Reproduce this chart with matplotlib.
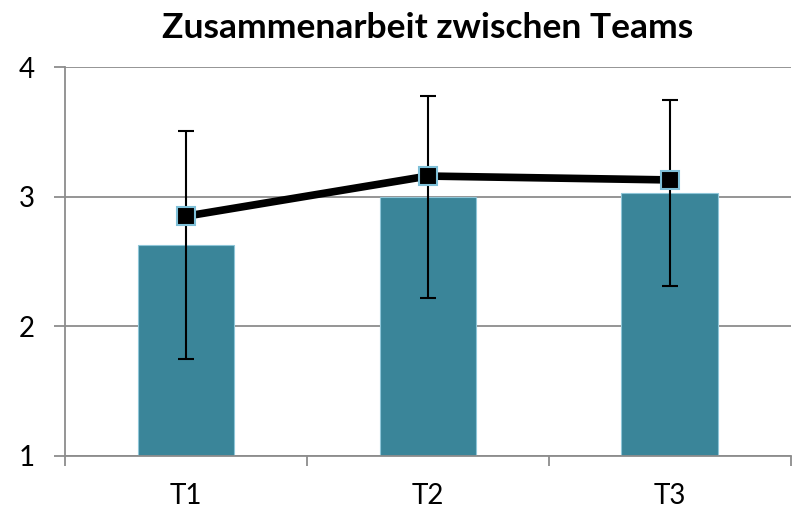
import matplotlib
matplotlib.use("Agg")
import matplotlib.pyplot as plt
import numpy as np

categories = ["T1", "T2", "T3"]
bar_values = [2.63, 3.0, 3.03]
bar_errors = [0.88, 0.78, 0.72]
line_values = [2.85, 3.16, 3.13]
title = "Zusammenarbeit zwischen Teams"

plt.rcParams['font.family'] = ['Lato', 'DejaVu Sans']

fig = plt.figure(figsize=(7.94, 5.09), dpi=100)
ax = fig.add_axes([0.0819, 0.1047, 0.914, 0.7631])

x = np.arange(len(categories))
grid_c = "#8c8c8c"
ax.set_axisbelow(True)
ax.yaxis.grid(True, color=grid_c, linewidth=1.3)
ax.bar(x, [v - 1 for v in bar_values], bottom=1, width=0.4, color="#3a8599",
       edgecolor="#8fc6d8", linewidth=0.8, zorder=2)
ax.errorbar(x, bar_values, yerr=bar_errors, fmt="none", ecolor="black",
            elinewidth=1.5, capsize=6, capthick=1.5, zorder=3)
ax.plot(x, line_values, color="black", linewidth=5.5, marker="s", markersize=13,
        markerfacecolor="black", markeredgecolor="#7fc0d8", markeredgewidth=1.5, zorder=4)

ax.set_xlim(-0.5, 2.5)
ax.set_ylim(1, 4)
ax.set_yticks([1, 2, 3, 4])
ax.set_xticks(x)
ax.set_xticklabels(categories)
ax.set_xticks([-0.5, 0.5, 1.5, 2.5], minor=True)
ax.tick_params(axis="x", which="major", length=0, pad=20, labelsize=20)
ax.tick_params(axis="x", which="minor", length=7, color=grid_c, width=1.3)
ax.tick_params(axis="y", length=8, color=grid_c, width=1.3, labelsize=20, pad=14)
for s in ["top", "right"]:
    ax.spines[s].set_visible(False)
for s in ["left", "bottom"]:
    ax.spines[s].set_color(grid_c)
    ax.spines[s].set_linewidth(1.3)

fig.text(0.539, 0.945, title, ha="center", va="center", fontsize=25.5, fontweight="bold")

fig.savefig("out.png", dpi=100)
